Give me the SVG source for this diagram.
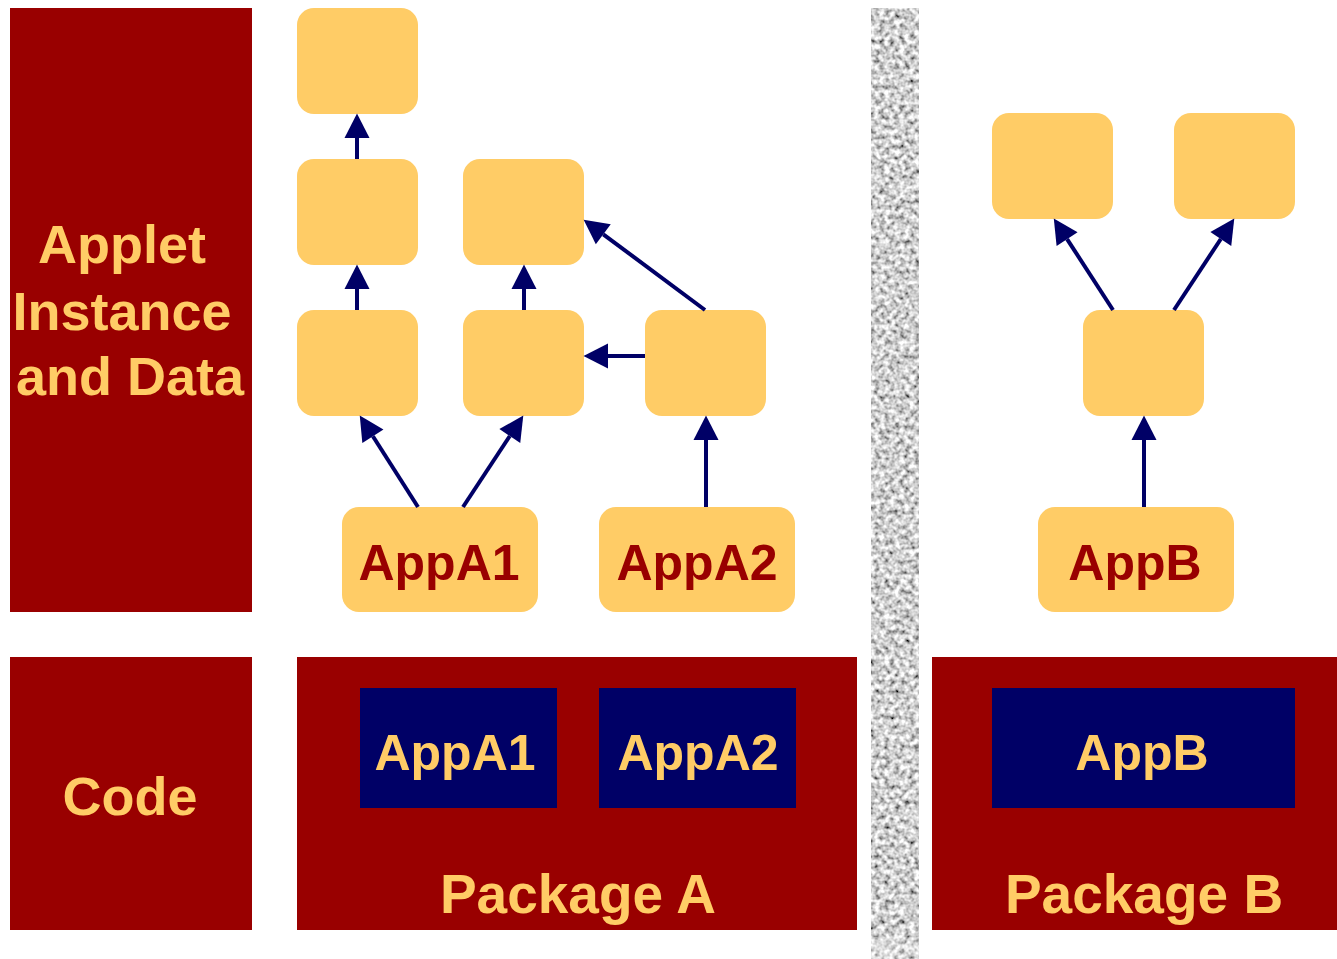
<svg xmlns="http://www.w3.org/2000/svg" width="1337" height="959" viewBox="0 0 1337 959">
  <style>
    .panel { fill: #990000; }
    .obj { fill: #FFCC66; }
    .cls { fill: #000066; }
    .lbl { font-family: "Liberation Sans", Arial, sans-serif; font-weight: bold; text-anchor: middle; }
    .lbl-y { fill: #FFCC66; font-size: 54px; }
    .lbl-p { fill: #FFCC66; font-size: 55px; }
    .lbl-r { fill: #990000; font-size: 50px; }
    .lbl-n { fill: #FFCC66; font-size: 50px; }
    .ref { stroke: #000066; stroke-width: 4; fill: none; marker-end: url(#head); }
  </style>
  <defs>
    <marker id="head" markerUnits="userSpaceOnUse" markerWidth="26" markerHeight="26" refX="0" refY="12.5" orient="auto" overflow="visible">
      <path d="M0,0 L24.5,12.5 L0,25 Z" fill="#000066"/>
    </marker>
    <filter id="granite" x="0" y="0" width="100%" height="100%">
      <feTurbulence type="fractalNoise" baseFrequency="0.2" numOctaves="2" seed="7" result="noise"/>
      <feColorMatrix in="noise" type="matrix" values="1.7 0 0 0 -0.22  1.7 0 0 0 -0.22  1.7 0 0 0 -0.22  0 0 0 0 1" result="grey"/>
      <feGaussianBlur in="grey" stdDeviation="0.5" result="soft"/>
      <feComposite in="soft" in2="SourceGraphic" operator="in"/>
    </filter>
  </defs>

  <rect width="1337" height="959" fill="#FFFFFF"/>

  <!-- row headings -->
  <g id="heading-instances">
    <rect class="panel" x="10" y="8" width="242" height="604"/>
    <text class="lbl lbl-y" x="122" y="263">Applet</text>
    <text class="lbl lbl-y" x="122" y="330">Instance</text>
    <text class="lbl lbl-y" x="130" y="395">and Data</text>
  </g>
  <g id="heading-code">
    <rect class="panel" x="10" y="657" width="242" height="273"/>
    <text class="lbl lbl-y" x="130" y="815">Code</text>
  </g>

  <!-- firewall between the two packages -->
  <g id="firewall">
    <rect x="871" y="8" width="48" height="951" fill="#aaaaaa" filter="url(#granite)"/>
    <rect x="871" y="937" width="48" height="22" fill="#FFFFFF" opacity="0.25"/>
  </g>

  <!-- package A code -->
  <g id="package-a">
    <rect class="panel" x="297" y="657" width="560" height="273"/>
    <text class="lbl lbl-p" x="578" y="913">Package A</text>
  </g>
  <g id="class-appa1">
    <rect class="cls" x="360" y="688" width="197" height="120"/>
    <text class="lbl lbl-n" x="455" y="770">AppA1</text>
  </g>
  <g id="class-appa2">
    <rect class="cls" x="599" y="688" width="197" height="120"/>
    <text class="lbl lbl-n" x="698" y="770">AppA2</text>
  </g>

  <!-- package B code -->
  <g id="package-b">
    <rect class="panel" x="932" y="657" width="405" height="273"/>
    <text class="lbl lbl-p" x="1144" y="913">Package B</text>
  </g>
  <g id="class-appb">
    <rect class="cls" x="992" y="688" width="303" height="120"/>
    <text class="lbl lbl-n" x="1142" y="770">AppB</text>
  </g>

  <!-- package A object graph -->
  <g id="obj-a1"><rect class="obj" x="297" y="8" width="121" height="106" rx="17"/></g>
  <g id="obj-a2"><rect class="obj" x="297" y="159" width="121" height="106" rx="17"/></g>
  <g id="obj-a3"><rect class="obj" x="463" y="159" width="121" height="106" rx="17"/></g>
  <g id="obj-a4"><rect class="obj" x="297" y="310" width="121" height="106" rx="17"/></g>
  <g id="obj-a5"><rect class="obj" x="463" y="310" width="121" height="106" rx="17"/></g>
  <g id="obj-a6"><rect class="obj" x="645" y="310" width="121" height="106" rx="17"/></g>
  <g id="inst-appa1">
    <rect class="obj" x="342" y="507" width="196" height="105" rx="17"/>
    <text class="lbl lbl-r" x="439" y="580">AppA1</text>
  </g>
  <g id="inst-appa2">
    <rect class="obj" x="599" y="507" width="196" height="105" rx="17"/>
    <text class="lbl lbl-r" x="697" y="580">AppA2</text>
  </g>

  <!-- package B object graph -->
  <g id="obj-b1"><rect class="obj" x="992" y="113" width="121" height="106" rx="17"/></g>
  <g id="obj-b2"><rect class="obj" x="1174" y="113" width="121" height="106" rx="17"/></g>
  <g id="obj-b3"><rect class="obj" x="1083" y="310" width="121" height="106" rx="17"/></g>
  <g id="inst-appb">
    <rect class="obj" x="1038" y="507" width="196" height="105" rx="17"/>
    <text class="lbl lbl-r" x="1135" y="580">AppB</text>
  </g>

  <!-- references: each line stops at the arrowhead base -->
  <g id="connectors">
    <line class="ref" x1="357" y1="159" x2="357" y2="138"/>
    <line class="ref" x1="357" y1="310" x2="357" y2="289"/>
    <line class="ref" x1="524" y1="310" x2="524" y2="289"/>
    <line class="ref" x1="705" y1="310" x2="603.3" y2="234.3"/>
    <line class="ref" x1="645" y1="356" x2="608" y2="356"/>
    <line class="ref" x1="418" y1="507" x2="372.9" y2="436.2"/>
    <line class="ref" x1="463" y1="507" x2="509.8" y2="436"/>
    <line class="ref" x1="706" y1="507" x2="706" y2="440"/>
    <line class="ref" x1="1144" y1="507" x2="1144" y2="440"/>
    <line class="ref" x1="1113" y1="310" x2="1067.1" y2="239.1"/>
    <line class="ref" x1="1174" y1="310" x2="1220.8" y2="239"/>
  </g>
</svg>
